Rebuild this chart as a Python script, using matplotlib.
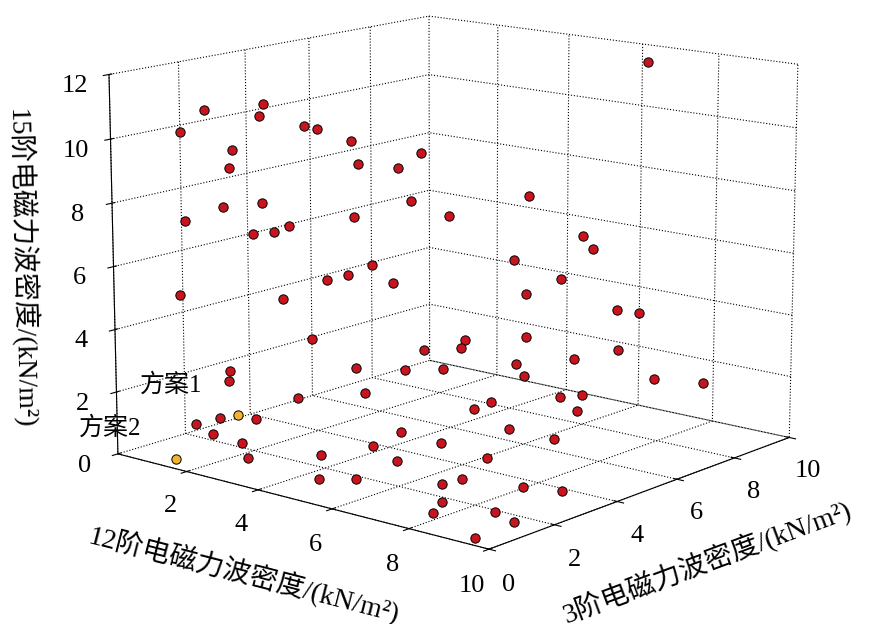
import matplotlib
matplotlib.use('Agg')
import matplotlib.pyplot as plt

plt.rcParams['font.family'] = ['Liberation Serif', 'Noto Sans CJK SC']
plt.rcParams['axes.unicode_minus'] = False

# 12阶, 3阶, 15阶 (kN/m^2)
x12 = [1.0, 1.2, 1.5, 1.3, 1.8, 2.0, 1.1, 1.6, 2.2, 1.4, 2.5, 1.9, 2.8, 3.0, 1.2, 2.4,
       3.5, 2.6, 3.2, 1.7, 2.0, 3.8, 4.0, 2.3, 4.5, 3.0, 2.7, 1.5, 3.6, 4.2, 5.0, 2.9,
       5.5, 3.3, 4.8, 2.1, 5.2, 6.0, 4.4, 3.1, 6.5, 5.8, 2.6, 4.9, 3.7, 7.0, 6.2, 5.4,
       7.5, 4.1, 6.8, 8.0, 5.6, 7.2, 3.4, 8.5, 6.4, 7.8, 4.6, 9.0, 5.9, 8.2, 6.9, 9.5,
       7.4, 8.8, 5.1, 9.2, 6.6, 8.4, 7.1, 9.8, 4.3, 6.1, 7.7, 8.6, 5.3, 9.4, 3.9, 2.2,
       1.8, 6.3, 7.9, 8.1]
y3 = [1.0, 1.5, 2.0, 0.8, 2.5, 1.2, 3.0, 1.8, 2.2, 0.5, 3.5, 2.8, 1.5, 4.0, 3.8, 0.9,
      2.0, 4.5, 3.0, 1.6, 0.3, 1.2, 3.5, 5.0, 2.4, 0.6, 4.2, 2.6, 5.5, 1.0, 3.0, 6.0,
      1.8, 2.4, 4.8, 6.5, 0.5, 2.8, 6.0, 7.0, 1.5, 4.2, 1.2, 7.5, 3.6, 0.8, 5.5, 6.8,
      2.2, 8.0, 3.4, 1.0, 8.5, 4.5, 5.2, 0.4, 7.2, 2.6, 9.0, 1.4, 6.2, 5.0, 8.0, 0.2,
      3.8, 6.8, 9.5, 2.0, 9.2, 4.0, 7.8, 1.0, 7.0, 3.2, 5.8, 8.8, 1.5, 3.0, 2.0, 0.8,
      1.0, 9.8, 4.8, 0.6]
z15 = [10.2, 10.8, 9.5, 7.5, 10.5, 8.0, 6.5, 9.0, 11.0, 5.3, 10.0, 6.8, 8.2, 9.6, 4.2,
       3.0, 10.6, 7.0, 5.5, 2.3, 1.4, 7.8, 6.0, 8.5, 3.2, 1.0, 5.2, 0.7, 9.0, 2.6,
       5.8, 7.2, 1.2, 3.8, 2.5, 8.0, 0.5, 4.0, 3.0, 6.5, 2.0, 3.6, 0.2, 7.4, 1.8, 1.5,
       2.8, 4.5, 0.6, 5.0, 2.2, 1.0, 6.0, 3.0, 2.0, 0.8, 2.5, 1.2, 4.2, 0.3, 3.4, 2.0,
       4.0, 0.1, 1.6, 2.6, 5.2, 0.9, 3.5, 1.5, 2.8, 0.4, 0.6, 1.0, 2.1, 1.8, 0.2, 0.5,
       0.4, 1.5, 0.8, 11.5, 2.4, 0.3]

scheme_x = [2.5, 1.5]
scheme_y = [1.0, 0.2]
scheme_z = [1.6, 0.2]
scheme_names = ['方案1', '方案2']

fig = plt.figure(figsize=(8.96, 6.24), dpi=100)
ax = fig.add_axes([0.0, 0.07, 1.0, 1.0], projection='3d')
ax.view_init(elev=13, azim=-50)

for a in (ax.xaxis, ax.yaxis, ax.zaxis):
    a.set_pane_color((1, 1, 1, 0))
    a.pane.set_edgecolor('black')
    a._axinfo['grid'].update(color='black', linestyle=':', linewidth=0.8)
    a.line.set_color('black')
ax.zaxis.set_ticks_position('lower')
ax.zaxis.set_label_position('lower')

ax.scatter(x12, y3, z15, c='#c8141e', edgecolors='black', s=45, depthshade=False, linewidths=0.7)
ax.scatter(scheme_x, scheme_y, scheme_z, c='#f2b233', edgecolors='black', s=45,
           depthshade=False, linewidths=0.7)
for sx, sy, sz, name in zip(scheme_x, scheme_y, scheme_z, scheme_names):
    ax.text(sx - 1.0, sy, sz + 0.5, name, fontsize=18, ha='right')

ax.set_xlim(0, 10)
ax.set_ylim(0, 10)
ax.set_zlim(0, 12)
ax.set_xticks([2, 4, 6, 8, 10])
ax.set_yticks([0, 2, 4, 6, 8, 10])
ax.set_zticks([0, 2, 4, 6, 8, 10, 12])
ax.tick_params(labelsize=19)
ax.set_xlabel('12阶电磁力波密度/(kN/m²)', fontsize=20, labelpad=14)
ax.set_ylabel('3阶电磁力波密度/(kN/m²)', fontsize=20, labelpad=14)
ax.set_zlabel('15阶电磁力波密度/(kN/m²)', fontsize=20, labelpad=10, rotation=90)
ax.set_box_aspect((1, 1, 0.8), zoom=1.22)

plt.savefig('out.png', dpi=100)
